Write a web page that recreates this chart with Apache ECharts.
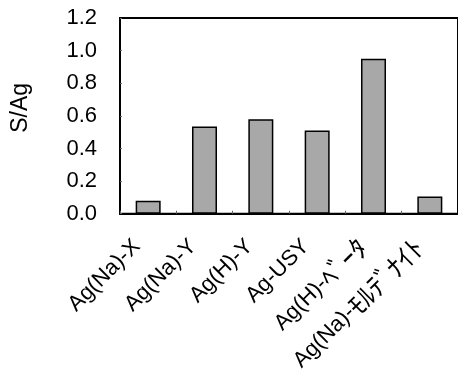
<!DOCTYPE html>
<html>
<head>
<meta charset="utf-8">
<script src="https://cdn.jsdelivr.net/npm/echarts@6/dist/echarts.min.js"></script>
<style>
html,body{margin:0;padding:0;background:#fff;}
#chart{width:458px;height:376px;}
</style>
</head>
<body>
<div id="chart"></div>
<script>
const categories = ["Ag(Na)-X", "Ag(Na)-Y", "Ag(H)-Y", "Ag-USY", "Ag(H)-ﾍﾞｰﾀ", "Ag(Na)-ﾓﾙﾃﾞﾅｲﾄ"];
const values = [0.08, 0.535, 0.58, 0.51, 0.95, 0.105];
const yTicks = [0, 0.2, 0.4, 0.6, 0.8, 1.0, 1.2];
const yName = "S/Ag";

const FONT = '"Liberation Sans", Arial, "Noto Sans CJK JP", sans-serif';
const chart = echarts.init(document.getElementById('chart'), null, {renderer: 'canvas'});
chart.setOption({
  backgroundColor: '#fff',
  animation: false,
  grid: {left: 120, top: 18, right: -6, bottom: 162, show: true, borderColor: '#000', borderWidth: 2, backgroundColor: 'transparent'},
  xAxis: {
    type: 'category',
    data: categories,
    axisLine: {lineStyle: {color: '#000', width: 2}},
    axisTick: {show: true, inside: true, length: 3, lineStyle: {color: '#666', width: 1}},
    axisLabel: {
      rotate: 45, interval: 0, margin: 18, padding: [0, 16, 0, 0], color: '#000', fontSize: 22, fontFamily: FONT,
      formatter: v => {
        const m = v.match(/^([^\uFF61-\uFF9F]*)([\uFF61-\uFF9F]+)$/);
        return m ? '{a|' + m[1] + '}{k|' + m[2] + '}' : '{a|' + v + '}';
      },
      rich: {
        a: {fontSize: 22, fontFamily: FONT, color: '#000'},
        k: {fontSize: 27, fontFamily: '"Noto Sans CJK JP", sans-serif', color: '#000'}
      }
    }
  },
  yAxis: {
    type: 'value',
    min: yTicks[0],
    max: yTicks[yTicks.length - 1],
    interval: 0.2,
    name: yName,
    nameLocation: 'middle',
    nameGap: 88,
    nameTextStyle: {color: '#000', fontSize: 23, fontFamily: FONT, padding: [0, 0, 0, 16]},
    axisLine: {show: true, lineStyle: {color: '#000', width: 2}},
    axisTick: {show: true, inside: true, length: 2, lineStyle: {color: '#666', width: 1}},
    splitLine: {show: false},
    axisLabel: {margin: 23, color: '#000', fontSize: 22, fontFamily: FONT, formatter: v => v.toFixed(1)}
  },
  series: [{
    type: 'bar',
    data: values,
    barWidth: 25,
    itemStyle: {color: '#a8a8a8', borderColor: '#000', borderWidth: 1.5}
  }]
});
</script>
</body>
</html>
